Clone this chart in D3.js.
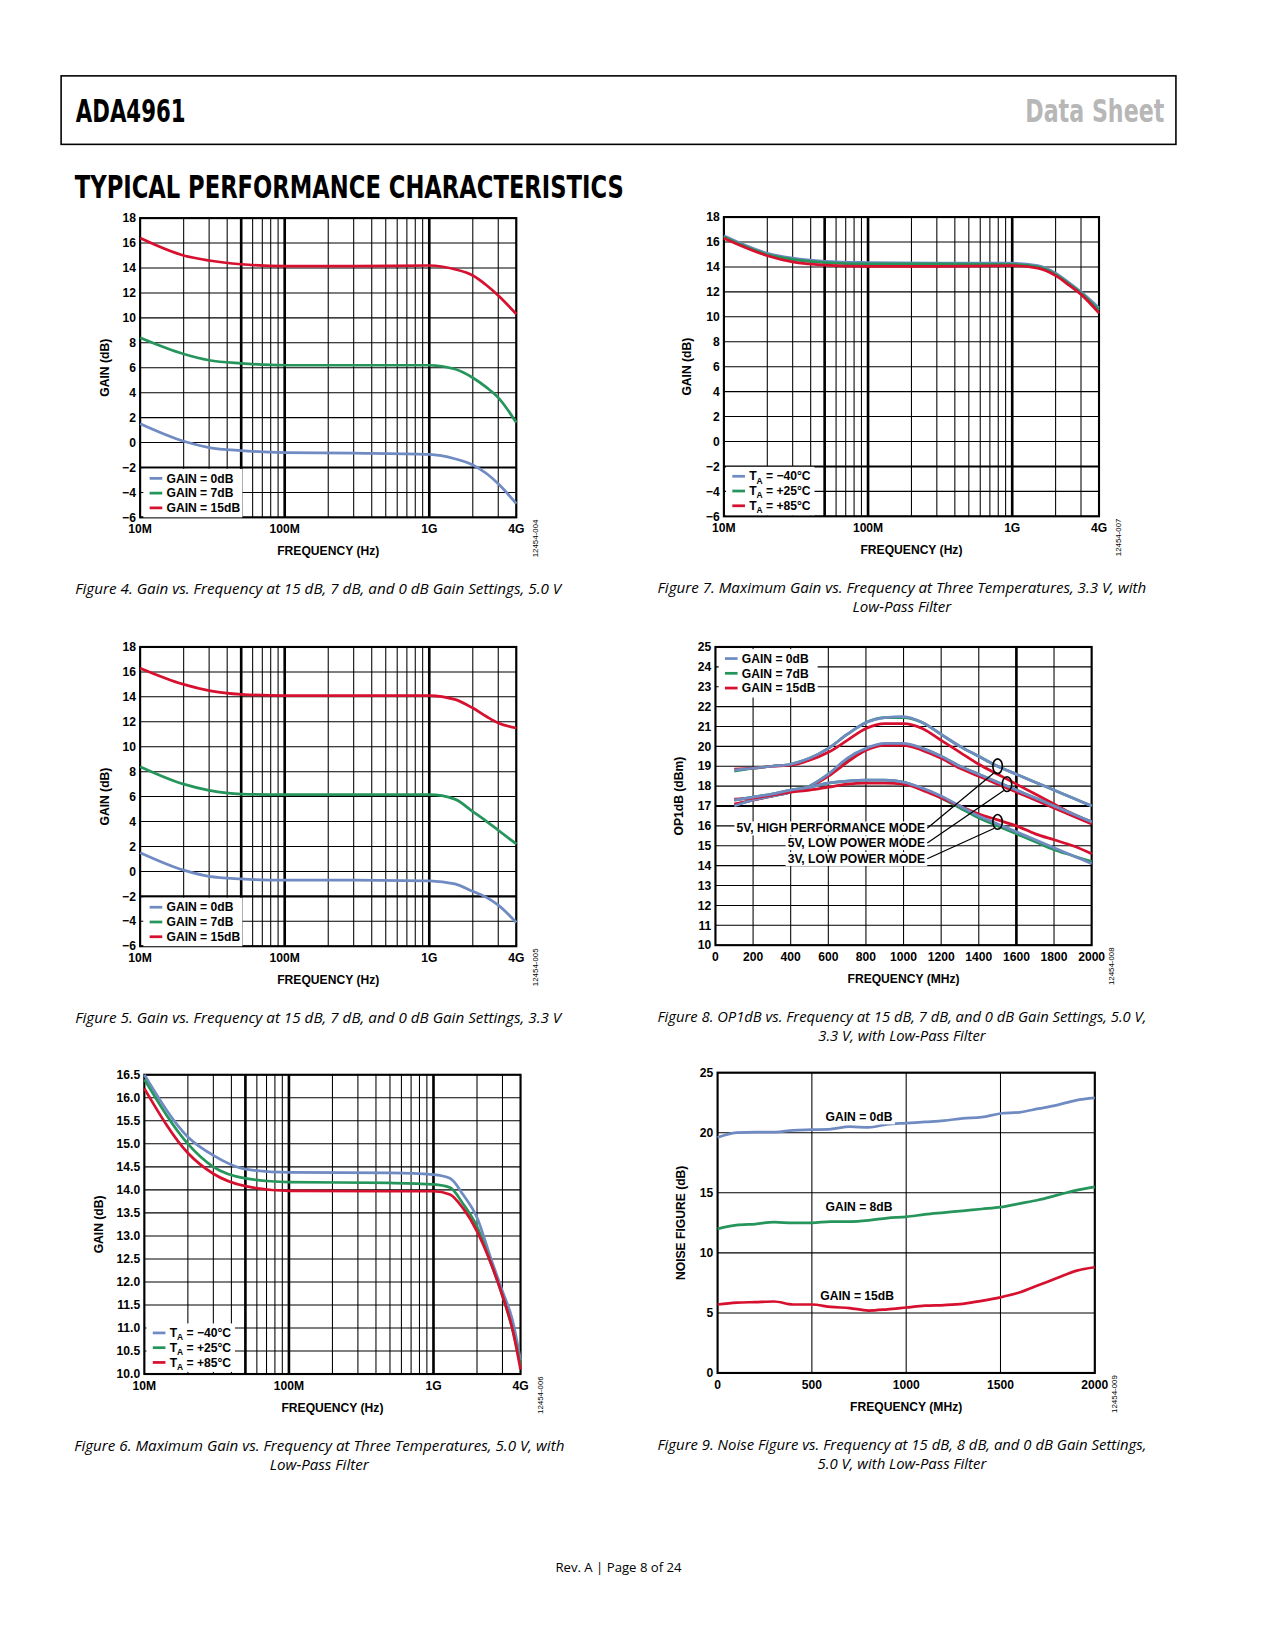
<!DOCTYPE html>
<html><head><meta charset="utf-8">
<script src="https://cdn.jsdelivr.net/npm/d3@7"></script>
<style>body{margin:0;background:#fff}</style>
</head><body>
<svg id="page" width="1275" height="1650"></svg>
<script>
var BLUE = "#6f8bc2", GREEN = "#25955c", RED = "#d6102e";

// fig 4 / 5 / 7 frequencies (Hz)
var fA = [1e7,2e7,3e7,5e7,1e8,3e8,1e9,1.5e9,2e9,2.5e9,3e9,4e9];
var f4_0 = [1.5,0.1,-0.4,-0.65,-0.8,-0.85,-0.95,-1.3,-1.8,-2.5,-3.3,-4.9];
var f4_7 = [8.4,7.1,6.6,6.35,6.2,6.2,6.2,5.9,5.2,4.4,3.6,1.6];
var f4_15 = [16.4,15.0,14.6,14.3,14.15,14.15,14.2,13.9,13.4,12.6,11.8,10.3];
var f5_0 = [1.5,0.1,-0.4,-0.6,-0.7,-0.7,-0.75,-1.0,-1.6,-2.1,-2.7,-4.1];
var f5_7 = [8.4,7.0,6.5,6.2,6.15,6.15,6.15,5.8,4.8,4.0,3.3,2.2];
var f5_15 = [16.3,15.0,14.5,14.2,14.1,14.1,14.1,13.8,13.1,12.4,11.9,11.5];
var f7_m40 = [16.5,15.1,14.7,14.45,14.35,14.3,14.3,14.1,13.5,12.7,12.0,10.7];
var f7_25 = [16.4,15.0,14.6,14.35,14.25,14.25,14.2,14.0,13.4,12.6,11.9,10.5];
var f7_85 = [16.3,14.9,14.4,14.15,14.05,14.05,14.1,13.9,13.3,12.5,11.8,10.3];

// fig 6
var f6 = [1e7,2e7,3e7,5e7,1e8,5e8,1e9,1.3e9,1.6e9,2e9,2.5e9,3e9,3.5e9,4e9];
var f6_m40 = [16.5,15.15,14.75,14.45,14.38,14.37,14.33,14.25,13.9,13.4,12.5,11.8,11.2,10.3];
var f6_25 = [16.4,15.0,14.5,14.25,14.17,14.15,14.12,14.05,13.7,13.2,12.4,11.7,11.0,10.2];
var f6_85 = [16.2,14.8,14.35,14.08,13.98,13.97,13.97,13.9,13.6,13.1,12.4,11.7,11.0,10.1];

// fig 8 (MHz)
var f8 = [100,200,300,400,500,600,700,800,900,1000,1100,1200,1300,1400,1500,1600,1700,1800,1900,2000];
var hp_0 = [18.8,18.9,19.0,19.1,19.4,19.9,20.6,21.2,21.45,21.5,21.2,20.6,20.0,19.5,19.0,18.6,18.2,17.8,17.4,17.0];
var hp_7 = [18.75,18.9,19.0,19.1,19.4,19.9,20.6,21.2,21.45,21.45,21.2,20.6,20.0,19.5,19.0,18.6,18.2,17.8,17.4,17.0];
var hp_15 = [18.85,18.9,19.0,19.05,19.3,19.7,20.3,20.9,21.15,21.15,20.9,20.3,19.7,19.1,18.6,18.1,17.6,17.1,16.6,16.2];
var lp5_0 = [17.0,17.3,17.5,17.7,18.0,18.6,19.4,19.9,20.15,20.15,19.9,19.5,19.0,18.6,18.2,17.8,17.4,17.0,16.6,16.2];
var lp5_7 = [17.05,17.3,17.5,17.7,18.0,18.6,19.3,19.85,20.1,20.1,19.9,19.5,19.0,18.6,18.2,17.8,17.4,17.0,16.6,16.2];
var lp5_15 = [17.1,17.3,17.5,17.7,17.95,18.5,19.2,19.8,20.05,20.05,19.8,19.4,18.9,18.5,18.1,17.7,17.3,16.9,16.5,16.1];
var lp3_0 = [17.3,17.45,17.6,17.8,17.95,18.15,18.25,18.3,18.3,18.2,17.9,17.5,17.0,16.5,16.1,15.7,15.3,14.9,14.5,14.1];
var lp3_7 = [17.3,17.45,17.6,17.8,17.95,18.15,18.25,18.3,18.3,18.2,17.85,17.4,16.9,16.4,16.0,15.6,15.2,14.8,14.5,14.2];
var lp3_15 = [17.35,17.4,17.55,17.7,17.8,17.95,18.1,18.15,18.15,18.1,17.8,17.4,17.0,16.6,16.3,16.0,15.6,15.3,15.0,14.6];

// fig 9 (MHz)
var f9 = [0,100,200,300,400,500,600,700,800,900,1000,1100,1200,1300,1400,1500,1600,1700,1800,1900,2000];
var nf_0 = [19.6,20.0,20.05,20.05,20.2,20.25,20.3,20.5,20.45,20.7,20.8,20.9,21.0,21.2,21.3,21.6,21.7,22.0,22.3,22.7,22.9];
var nf_8 = [12.0,12.3,12.4,12.55,12.5,12.5,12.6,12.6,12.7,12.9,13.0,13.2,13.35,13.5,13.65,13.8,14.1,14.4,14.8,15.2,15.5];
var nf_15 = [5.7,5.85,5.9,5.95,5.7,5.7,5.5,5.4,5.2,5.3,5.45,5.6,5.65,5.75,6.0,6.3,6.7,7.3,7.9,8.5,8.8];

var logGrid = [];
[1e7,1e8,1e9].forEach(function(d){ for (var k=1;k<10;k++) if (d*k<=4e9) logGrid.push(d*k); });
logGrid.push(4e9);
var logTicks = [1e7,1e8,1e9,4e9], logLbl = ["10M","100M","1G","4G"];

var svg = d3.select("#page");
var pg = svg.append("g").attr("transform","scale(1.0537)");
var TF = "'Liberation Sans', Arial, sans-serif";
var CF = "'DejaVu Sans Condensed', sans-serif";
var IF = "'Open Sans', sans-serif";

function fitText(sel, w) {
  sel.attr("textLength", w).attr("lengthAdjust","spacingAndGlyphs");
}

// header
pg.append("rect").attr("x",58).attr("y",72).attr("width",1058).attr("height",65)
  .attr("fill","none").attr("stroke","#000").attr("stroke-width",1.5);
fitText(pg.append("text").attr("x",72).attr("y",116).text("ADA4961")
  .style("font-family",CF).style("font-weight","bold").style("font-size","30px"), 104);
fitText(pg.append("text").attr("x",973).attr("y",116).text("Data Sheet")
  .style("font-family",CF).style("font-weight","bold").style("font-size","30px").attr("fill","#b7b7b7"), 132);
fitText(pg.append("text").attr("x",71).attr("y",188).text("TYPICAL PERFORMANCE CHARACTERISTICS")
  .style("font-family",CF).style("font-weight","bold").style("font-size","30px"), 521);
pg.append("text").attr("x",587).attr("y",1492).attr("text-anchor","middle").text("Rev. A | Page 8 of 24")
  .style("font-family",IF).style("font-size","12.5px");

function chart(c) {
  var g = pg.append("g");
  var x = c.log ? d3.scaleLog().domain(c.xd).range([c.x0,c.x1]) : d3.scaleLinear().domain(c.xd).range([c.x0,c.x1]);
  var y = d3.scaleLinear().domain(c.yd).range([c.y1,c.y0]);
  c.vgrid.forEach(function(v){
    g.append("line").attr("x1",x(v)).attr("x2",x(v)).attr("y1",c.y0).attr("y2",c.y1)
      .attr("stroke","#000").attr("stroke-width",(c.vbold||[]).indexOf(v)>=0?2.5:1);
  });
  c.hgrid.forEach(function(v){
    g.append("line").attr("x1",c.x0).attr("x2",c.x1).attr("y1",y(v)).attr("y2",y(v))
      .attr("stroke","#000").attr("stroke-width",(c.hbold||[]).indexOf(v)>=0?2:1);
  });
  g.append("rect").attr("x",c.x0).attr("y",c.y0).attr("width",c.x1-c.x0).attr("height",c.y1-c.y0)
    .attr("fill","none").attr("stroke","#000").attr("stroke-width",2);
  var line = d3.line().x(function(d){return x(d[0]);}).y(function(d){return y(d[1]);}).curve(d3.curveMonotoneX);
  c.series.forEach(function(s){
    g.append("path").datum(c.xs.map(function(v,i){return [v,s.v[i]];}))
      .attr("d",line).attr("fill","none").attr("stroke",s.c).attr("stroke-width",2.6);
  });
  c.yt.forEach(function(v){
    g.append("text").attr("x",c.x0-4).attr("y",y(v)+4).attr("text-anchor","end")
      .text(c.yfmt ? c.yfmt(v) : String(v).replace("-","\u2212"))
      .style("font-family",TF).style("font-weight","bold").style("font-size","11.5px");
  });
  c.xt.forEach(function(v,i){
    g.append("text").attr("x",x(v)).attr("y",c.y1+15).attr("text-anchor","middle").text(c.xl[i])
      .style("font-family",TF).style("font-weight","bold").style("font-size","11.5px");
  });
  g.append("text").attr("x",(c.x0+c.x1)/2).attr("y",c.y1+36).attr("text-anchor","middle").text(c.xlab)
    .style("font-family",TF).style("font-weight","bold").style("font-size","11.5px");
  g.append("text").attr("transform","translate("+c.ylx+","+(c.y0+c.y1)/2+") rotate(-90)")
    .attr("text-anchor","middle").text(c.ylab)
    .style("font-family",TF).style("font-weight","bold").style("font-size","11.5px");
  g.append("text").attr("transform","translate("+(c.x1+21)+","+(c.y1+20)+") rotate(-90)")
    .attr("text-anchor","middle").text(c.code).style("font-family",TF).style("font-size","7.5px");
  // caption, squeezed to the condensed width of the original
  var cx = c.capx, cg = g.append("g");
  c.cap.forEach(function(t,i){
    cg.append("text").attr("x",cx).attr("y",c.y1+73+i*18).attr("text-anchor","middle").text(t)
      .style("font-family",IF).style("font-style","italic").style("font-size","14.5px");
  });
  var w0 = cg.select("text").node().getComputedTextLength();
  var k = c.capw / w0;
  cg.attr("transform","translate("+cx+",0) scale("+k+",1) translate("+(-cx)+",0)");
  if (c.legend) {
    var L = c.legend;
    g.append("rect").attr("x",L.x).attr("y",L.y).attr("width",L.w).attr("height",L.items.length*14+4).attr("fill","#fff");
    L.items.forEach(function(it,i){
      var yy = L.y+9+i*14;
      g.append("line").attr("x1",L.x+6).attr("x2",L.x+18).attr("y1",yy).attr("y2",yy).attr("stroke",it.c).attr("stroke-width",2.6);
      var t = g.append("text").attr("x",L.x+22).attr("y",yy+4).style("font-family",TF).style("font-weight","bold").style("font-size","11.5px");
      if (it.sub) {
        t.append("tspan").text("T");
        t.append("tspan").attr("dy",3).style("font-size","8px").text("A");
        t.append("tspan").attr("dy",-3).text(" = " + it.t);
      } else t.text(it.t);
    });
  }
  return {g:g,x:x,y:y};
}

function label(g, x, y, txt, anchor) {
  var t = g.append("text").attr("x",x).attr("y",y).attr("text-anchor",anchor).text(txt)
    .style("font-family",TF).style("font-weight","bold").style("font-size","11.5px");
  var bb = t.node().getBBox();
  g.insert("rect","text").attr("x",bb.x-2).attr("y",bb.y).attr("width",bb.width+4).attr("height",bb.height).attr("fill","#fff");
  t.raise();
  return t;
}

var ev = d3.range(-6,19,2);
var gainLeg = [{t:"GAIN = 0dB",c:BLUE},{t:"GAIN = 7dB",c:GREEN},{t:"GAIN = 15dB",c:RED}];
var tempLeg = [{t:"\u221240\u00b0C",c:BLUE,sub:1},{t:"+25\u00b0C",c:GREEN,sub:1},{t:"+85\u00b0C",c:RED,sub:1}];

chart({log:1,xd:[1e7,4e9],yd:[-6,18],x0:133,x1:490,y0:207,y1:491,xs:fA,
  vgrid:logGrid,vbold:[5e7,1e8,1e9],hgrid:ev,hbold:[-2],yt:ev,xt:logTicks,xl:logLbl,
  series:[{v:f4_0,c:BLUE},{v:f4_7,c:GREEN},{v:f4_15,c:RED}],
  xlab:"FREQUENCY (Hz)",ylab:"GAIN (dB)",ylx:103,code:"12454-004",
  cap:["Figure 4. Gain vs. Frequency at 15 dB, 7 dB, and 0 dB Gain Settings, 5.0 V"],capx:302,capw:461,
  legend:{x:136,y:445,w:94,items:gainLeg}});

chart({log:1,xd:[1e7,4e9],yd:[-6,18],x0:687,x1:1043,y0:206,y1:490,xs:fA,
  vgrid:logGrid,vbold:[5e7,1e8,1e9],hgrid:ev,hbold:[-2],yt:ev,xt:logTicks,xl:logLbl,
  series:[{v:f7_m40,c:BLUE},{v:f7_25,c:GREEN},{v:f7_85,c:RED}],
  xlab:"FREQUENCY (Hz)",ylab:"GAIN (dB)",ylx:656,code:"12454-007",
  cap:["Figure 7. Maximum Gain vs. Frequency at Three Temperatures, 3.3 V, with","Low-Pass Filter"],capx:856,capw:464,
  legend:{x:689,y:443,w:84,items:tempLeg}});

chart({log:1,xd:[1e7,4e9],yd:[-6,18],x0:133,x1:490,y0:614,y1:898,xs:fA,
  vgrid:logGrid,vbold:[5e7,1e8,1e9],hgrid:ev,hbold:[-2],yt:ev,xt:logTicks,xl:logLbl,
  series:[{v:f5_0,c:BLUE},{v:f5_7,c:GREEN},{v:f5_15,c:RED}],
  xlab:"FREQUENCY (Hz)",ylab:"GAIN (dB)",ylx:103,code:"12454-005",
  cap:["Figure 5. Gain vs. Frequency at 15 dB, 7 dB, and 0 dB Gain Settings, 3.3 V"],capx:302,capw:461,
  legend:{x:136,y:852,w:94,items:gainLeg}});

var c8 = chart({log:0,xd:[0,2000],yd:[10,25],x0:679,x1:1036,y0:614,y1:897,xs:f8,
  vgrid:d3.range(0,2001,200),vbold:[1600],hgrid:d3.range(10,26),hbold:[17],yt:d3.range(10,26),
  xt:d3.range(0,2001,200),xl:d3.range(0,2001,200).map(String),
  series:[{v:hp_7,c:GREEN},{v:hp_15,c:RED},{v:hp_0,c:BLUE},
          {v:lp5_7,c:GREEN},{v:lp5_15,c:RED},{v:lp5_0,c:BLUE},
          {v:lp3_7,c:GREEN},{v:lp3_15,c:RED},{v:lp3_0,c:BLUE}],
  xlab:"FREQUENCY (MHz)",ylab:"OP1dB (dBm)",ylx:648,code:"12454-008",
  cap:["Figure 8. OP1dB vs. Frequency at 15 dB, 7 dB, and 0 dB Gain Settings, 5.0 V,","3.3 V, with Low-Pass Filter"],capx:856,capw:464,
  legend:{x:682,y:616,w:94,items:gainLeg}});
var modes = [["5V, HIGH PERFORMANCE MODE",786,1500,19.0],["5V, LOW POWER MODE",800,1550,18.1],["3V, LOW POWER MODE",815,1500,16.2]];
modes.forEach(function(m){
  label(c8.g, 878, m[1]+4, m[0], "end");
  var ex = c8.x(m[2]), ey = c8.y(m[3]);
  c8.g.append("line").attr("x1",880).attr("y1",m[1]).attr("x2",ex-3).attr("y2",ey+6).attr("stroke","#000").attr("stroke-width",1.2);
  c8.g.append("ellipse").attr("cx",ex).attr("cy",ey).attr("rx",4.5).attr("ry",7).attr("fill","none").attr("stroke","#000").attr("stroke-width",1.5);
});

chart({log:1,xd:[1e7,4e9],yd:[10,16.5],x0:137,x1:494,y0:1020,y1:1304,xs:f6,
  vgrid:logGrid,vbold:[5e7,1e8,1e9],hgrid:d3.range(10,16.6,0.5),yt:d3.range(10,16.6,0.5),
  yfmt:function(v){return v.toFixed(1);},xt:logTicks,xl:logLbl,
  series:[{v:f6_m40,c:BLUE},{v:f6_25,c:GREEN},{v:f6_85,c:RED}],
  xlab:"FREQUENCY (Hz)",ylab:"GAIN (dB)",ylx:98,code:"12454-006",
  cap:["Figure 6. Maximum Gain vs. Frequency at Three Temperatures, 5.0 V, with","Low-Pass Filter"],capx:303,capw:465,
  legend:{x:139,y:1256,w:84,items:tempLeg}});

var c9 = chart({log:0,xd:[0,2000],yd:[0,25],x0:681,x1:1039,y0:1018,y1:1303,xs:f9,
  vgrid:d3.range(0,2001,500),hgrid:d3.range(0,26,5),yt:d3.range(0,26,5),
  xt:d3.range(0,2001,500),xl:d3.range(0,2001,500).map(String),
  series:[{v:nf_0,c:BLUE},{v:nf_8,c:GREEN},{v:nf_15,c:RED}],
  xlab:"FREQUENCY (MHz)",ylab:"NOISE FIGURE (dB)",ylx:650,code:"12454-009",
  cap:["Figure 9. Noise Figure vs. Frequency at 15 dB, 8 dB, and 0 dB Gain Settings,","5.0 V, with Low-Pass Filter"],capx:856,capw:464});
[["GAIN = 0dB",750,21.3],["GAIN = 8dB",750,13.8],["GAIN = 15dB",740,6.4]].forEach(function(a){
  label(c9.g, c9.x(a[1]), c9.y(a[2])+4, a[0], "middle");
});
</script>
</body></html>
